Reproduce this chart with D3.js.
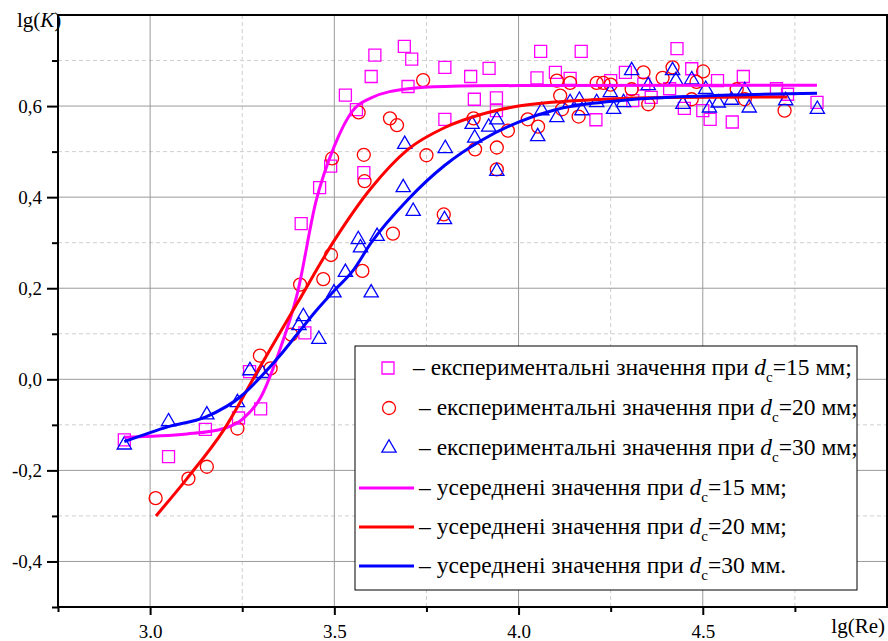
<!DOCTYPE html>
<html>
<head>
<meta charset="utf-8">
<script src="https://cdn.jsdelivr.net/npm/d3@7"></script>
<style>
  html, body { margin: 0; padding: 0; background: #fff; }
  svg { display: block; }
  svg text { font-family: "Liberation Serif", "Times New Roman", serif; }
</style>
</head>
<body>
<svg id="chart" width="888" height="641"></svg>
<script>
// experimental points, [lg(Re), lg(K)]
const points15 = [
  [2.93, -0.133], [3.05, -0.170], [3.15, -0.110], [3.24, -0.085], [3.30, -0.065],
  [3.27, 0.017], [3.42, 0.102], [3.41, 0.342], [3.46, 0.421], [3.49, 0.468],
  [3.53, 0.624], [3.56, 0.592], [3.58, 0.454], [3.60, 0.665], [3.61, 0.712],
  [3.69, 0.731], [3.71, 0.703], [3.70, 0.643], [3.80, 0.685], [3.80, 0.571],
  [3.87, 0.665], [3.92, 0.683], [3.88, 0.615], [3.94, 0.618], [3.94, 0.590],
  [4.06, 0.720], [4.05, 0.662], [4.10, 0.674], [4.14, 0.661], [4.17, 0.720],
  [4.21, 0.570], [4.25, 0.656], [4.29, 0.674], [4.31, 0.612], [4.34, 0.648],
  [4.36, 0.619], [4.41, 0.638], [4.43, 0.726], [4.45, 0.595], [4.47, 0.682],
  [4.50, 0.590], [4.52, 0.571], [4.54, 0.656], [4.58, 0.565], [4.61, 0.665],
  [4.70, 0.638], [4.73, 0.626], [4.81, 0.608]
];

const points20 = [
  [3.015, -0.261], [3.104, -0.218], [3.154, -0.192], [3.237, -0.108], [3.298, 0.052],
  [3.327, 0.024], [3.383, 0.098], [3.407, 0.208], [3.470, 0.220], [3.491, 0.273],
  [3.494, 0.485], [3.566, 0.586], [3.576, 0.238], [3.580, 0.493], [3.582, 0.435],
  [3.651, 0.573], [3.659, 0.320], [3.670, 0.558], [3.741, 0.657], [3.750, 0.492],
  [3.797, 0.362], [3.878, 0.573], [3.882, 0.505], [3.941, 0.509], [3.941, 0.461],
  [3.971, 0.546], [4.025, 0.571], [4.053, 0.555], [4.104, 0.656], [4.113, 0.623],
  [4.118, 0.593], [4.140, 0.651], [4.163, 0.577], [4.212, 0.651], [4.230, 0.651],
  [4.250, 0.647], [4.307, 0.637], [4.339, 0.674], [4.352, 0.604], [4.391, 0.662],
  [4.418, 0.685], [4.470, 0.615], [4.483, 0.653], [4.501, 0.676], [4.592, 0.637],
  [4.614, 0.615], [4.722, 0.590]
];

const points30 = [
  [2.930, -0.144], [3.050, -0.093], [3.154, -0.078], [3.237, -0.051], [3.271, 0.019],
  [3.305, 0.013], [3.404, 0.118], [3.416, 0.138], [3.458, 0.088], [3.499, 0.190],
  [3.530, 0.235], [3.565, 0.307], [3.571, 0.289], [3.600, 0.190], [3.616, 0.314],
  [3.687, 0.421], [3.691, 0.516], [3.714, 0.369], [3.799, 0.351], [3.801, 0.507],
  [3.874, 0.560], [3.881, 0.530], [3.919, 0.554], [3.941, 0.570], [3.941, 0.457],
  [4.052, 0.533], [4.063, 0.590], [4.104, 0.575], [4.140, 0.608], [4.165, 0.613],
  [4.172, 0.590], [4.212, 0.608], [4.249, 0.630], [4.258, 0.593], [4.285, 0.608],
  [4.307, 0.678], [4.352, 0.645], [4.418, 0.678], [4.427, 0.656], [4.446, 0.604],
  [4.470, 0.658], [4.508, 0.637], [4.518, 0.596], [4.542, 0.607], [4.578, 0.613],
  [4.614, 0.634], [4.626, 0.596], [4.725, 0.612], [4.811, 0.593]
];

// averaged curves
const curve15 = [
  [2.93, -0.127], [3.10, -0.120], [3.20, -0.108], [3.25, -0.088], [3.30, -0.040],
  [3.35, 0.060], [3.40, 0.190], [3.45, 0.390], [3.50, 0.512], [3.55, 0.590],
  [3.60, 0.618], [3.70, 0.638], [3.80, 0.643], [4.00, 0.645], [4.81, 0.646]
];
const curve20 = [
  [3.016, -0.300], [3.10, -0.218], [3.20, -0.111], [3.30, 0.030], [3.40, 0.168],
  [3.50, 0.305], [3.60, 0.420], [3.70, 0.505], [3.80, 0.553], [3.90, 0.582],
  [4.00, 0.600], [4.20, 0.614], [4.40, 0.619], [4.73, 0.620]
];
const curve30 = [
  [2.93, -0.137], [3.05, -0.104], [3.15, -0.083], [3.25, -0.035], [3.30, 0.005],
  [3.35, 0.050], [3.40, 0.100], [3.45, 0.150], [3.50, 0.195], [3.55, 0.238],
  [3.60, 0.300], [3.70, 0.395], [3.80, 0.470], [3.90, 0.525], [4.00, 0.565],
  [4.10, 0.592], [4.20, 0.606], [4.30, 0.614], [4.50, 0.622], [4.81, 0.628]
];

const xMajor = [3.0, 3.5, 4.0, 4.5];
const xMajorLabels = ['3.0', '3.5', '4.0', '4.5'];
const xMinor = [2.75, 3.25, 3.75, 4.25, 4.75];
const yMajor = [-0.4, -0.2, 0.0, 0.2, 0.4, 0.6];
const yMajorLabels = ['-0,4', '-0,2', '0,0', '0,2', '0,4', '0,6'];
const yMinor = [-0.5, -0.3, -0.1, 0.1, 0.3, 0.5, 0.7];

const legendDiam = ['15', '20', '30'];

const colors = { c15: '#ff00ff', c20: '#ff0000', c30: '#0000ff' };
const serif = '"Liberation Serif", "Times New Roman", serif';

const svg = d3.select('#chart');
const m = { left: 58, right: 887, top: 15, bottom: 607 };

const x = d3.scaleLinear().domain([2.75, 5.0]).range([m.left, m.right]);
const y = d3.scaleLinear().domain([-0.5, 0.8]).range([m.bottom, m.top]);

// grid
const grid = svg.append('g');
grid.selectAll('.gxm').data(xMinor.filter(d => d > 2.75))
  .enter().append('line')
  .attr('x1', d => x(d)).attr('x2', d => x(d)).attr('y1', m.top).attr('y2', m.bottom)
  .attr('stroke', '#cfcfcf').attr('stroke-dasharray', '4,3');
grid.selectAll('.gym').data(yMinor.filter(d => d > -0.5))
  .enter().append('line')
  .attr('x1', m.left).attr('x2', m.right).attr('y1', d => y(d)).attr('y2', d => y(d))
  .attr('stroke', '#cfcfcf').attr('stroke-dasharray', '4,3');
grid.selectAll('.gx').data(xMajor)
  .enter().append('line')
  .attr('x1', d => x(d)).attr('x2', d => x(d)).attr('y1', m.top).attr('y2', m.bottom)
  .attr('stroke', '#9a9a9a');
grid.selectAll('.gy').data(yMajor)
  .enter().append('line')
  .attr('x1', m.left).attr('x2', m.right).attr('y1', d => y(d)).attr('y2', d => y(d))
  .attr('stroke', '#9a9a9a');

// axes
const xAxis = d3.axisBottom(x).tickValues(xMajor).tickSize(8)
  .tickFormat((d, i) => xMajorLabels[i]);
const xAxisMinor = d3.axisBottom(x).tickValues(xMinor).tickSize(5).tickFormat('');
const yAxis = d3.axisLeft(y).tickValues(yMajor).tickSize(11)
  .tickFormat((d, i) => yMajorLabels[i]).tickPadding(5);
const yAxisMinor = d3.axisLeft(y).tickValues(yMinor).tickSize(6).tickFormat('');

function styleAxis(g) {
  g.attr('font-family', serif);
  g.select('.domain').remove();
  g.selectAll('line').attr('stroke', '#000').attr('stroke-width', 2);
  g.selectAll('text').attr('fill', '#000').attr('font-size', 19);
}

svg.append('g').attr('transform', `translate(0,${m.bottom})`).call(xAxis).call(styleAxis)
  .selectAll('text').attr('y', 31).attr('dy', 0);
svg.append('g').attr('transform', `translate(0,${m.bottom})`).call(xAxisMinor).call(styleAxis);
svg.append('g').attr('transform', `translate(${m.left},0)`).call(yAxis).call(styleAxis);
svg.append('g').attr('transform', `translate(${m.left},0)`).call(yAxisMinor).call(styleAxis);

// frame
svg.append('rect')
  .attr('x', m.left).attr('y', m.top)
  .attr('width', m.right - m.left).attr('height', m.bottom - m.top)
  .attr('fill', 'none').attr('stroke', '#000').attr('stroke-width', 2);

// markers
const plot = svg.append('g');
const square = d3.symbol().type(d3.symbolSquare).size(144);
const triangle = d3.symbol().type(d3.symbolTriangle).size(88);

plot.selectAll('.p15').data(points15).enter().append('path')
  .attr('d', square)
  .attr('transform', d => `translate(${x(d[0])},${y(d[1])})`)
  .attr('fill', 'none').attr('stroke', colors.c15).attr('stroke-width', 1.3);

plot.selectAll('.p20').data(points20).enter().append('circle')
  .attr('cx', d => x(d[0])).attr('cy', d => y(d[1])).attr('r', 6.5)
  .attr('fill', 'none').attr('stroke', colors.c20).attr('stroke-width', 1.3);

plot.selectAll('.p30').data(points30).enter().append('path')
  .attr('d', triangle)
  .attr('transform', d => `translate(${x(d[0])},${y(d[1])})`)
  .attr('fill', 'none').attr('stroke', colors.c30).attr('stroke-width', 1.3);

// fitted lines
const line = d3.line().x(d => x(d[0])).y(d => y(d[1])).curve(d3.curveMonotoneX);
[[curve15, colors.c15], [curve20, colors.c20], [curve30, colors.c30]].forEach(([c, col]) => {
  svg.append('path').datum(c)
    .attr('d', line)
    .attr('fill', 'none').attr('stroke', col).attr('stroke-width', 3);
});

// axis titles
const lgK = svg.append('text').attr('x', 17).attr('y', 27).attr('font-size', 21);
lgK.append('tspan').text('lg(');
lgK.append('tspan').attr('font-style', 'italic').text('K');
lgK.append('tspan').text(')');

svg.append('text').attr('x', 885).attr('y', 633).attr('text-anchor', 'end')
  .attr('font-size', 21).text('lg(Re)');

// legend
const legend = svg.append('g');
const lgX = 355, lgY = 346, lgW = 502, lgH = 244;
legend.append('rect')
  .attr('x', lgX).attr('y', lgY).attr('width', lgW).attr('height', lgH)
  .attr('fill', '#fff').attr('stroke', '#000').attr('stroke-width', 1);

const rowY = [368, 408, 448, 488, 527, 566];

function legendText(i, tx, prefix, diam, tail) {
  const t = legend.append('text')
    .attr('x', tx).attr('y', rowY[i] + 7)
    .attr('font-size', 23.5);
  t.append('tspan').text(prefix);
  t.append('tspan').attr('font-style', 'italic').text('d');
  t.append('tspan').attr('dy', 7).attr('font-size', 15).text('c');
  t.append('tspan').attr('dy', -7).text('=' + diam + ' мм' + tail);
}

legend.append('path').attr('d', square)
  .attr('transform', `translate(388,${rowY[0]})`)
  .attr('fill', 'none').attr('stroke', colors.c15).attr('stroke-width', 1.3);
legend.append('circle').attr('cx', 389).attr('cy', rowY[1]).attr('r', 6.5)
  .attr('fill', 'none').attr('stroke', colors.c20).attr('stroke-width', 1.3);
legend.append('path').attr('d', triangle)
  .attr('transform', `translate(389,${rowY[2]})`)
  .attr('fill', 'none').attr('stroke', colors.c30).attr('stroke-width', 1.3);

legendText(0, 413, '– експериментальні значення при ', legendDiam[0], ';');
legendText(1, 419, '– експериментальні значення при ', legendDiam[1], ';');
legendText(2, 419, '– експериментальні значення при ', legendDiam[2], ';');

[colors.c15, colors.c20, colors.c30].forEach((col, k) => {
  legend.append('line')
    .attr('x1', 359).attr('x2', 414)
    .attr('y1', rowY[3 + k]).attr('y2', rowY[3 + k])
    .attr('stroke', col).attr('stroke-width', 3);
  legendText(3 + k, 419, '– усереднені значення при ', legendDiam[k], k === 2 ? '.' : ';');
});
</script>
</body>
</html>
